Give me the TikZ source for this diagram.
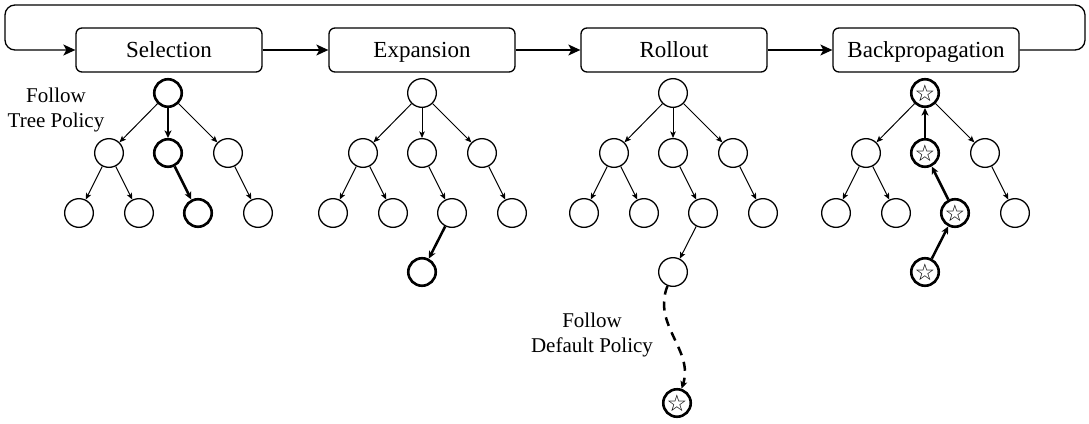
\documentclass[tikz,border=0pt]{standalone}
\usepackage{fontspec}
\setmainfont{Liberation Serif}
\newfontfamily\symfont{DejaVu Sans}
\usetikzlibrary{arrows.meta}
\tikzset{
  stage/.style={draw, rounded corners=6pt, minimum width=186pt, minimum height=44pt, inner sep=0pt, text height=17pt, text depth=3pt, font=\fontsize{23}{26}\selectfont, line width=1.3pt},
  nd/.style={circle, draw, minimum size=28.7pt, inner sep=0pt, line width=1.3pt},
  hn/.style={nd, minimum size=27.5pt, line width=2.6pt},
  sn/.style={hn, label={[font=\symfont\fontsize{23}{23}\selectfont, inner sep=0pt]center:☆}},
  ed/.style={-{Stealth[length=6.5pt,width=5.5pt,inset=1.5pt]}, line width=1pt},
  hed/.style={-{Stealth[length=7.5pt,width=7pt,inset=2pt]}, line width=2.5pt},
  flow/.style={-{Stealth[length=12pt,width=11pt,inset=3pt]}, line width=1.3pt},
  lbl/.style={align=center, font=\fontsize{21}{25}\selectfont},
}
\begin{document}
\begin{tikzpicture}[x=1pt,y=-1pt]
\useasboundingbox (0,0) rectangle (1089,423);
% stage boxes
\node[stage] (sel) at (169,50) {Selection};
\node[stage] (exp) at (422,50) {Expansion};
\node[stage] (rol) at (674,50) {Rollout};
\node[stage] (bp)  at (926,50) {Backpropagation};
\draw[flow] (sel) -- (exp);
\draw[flow] (exp) -- (rol);
\draw[flow] (rol) -- (bp);
\draw[flow, rounded corners=10pt] (bp.east) -| (1085,5) -| (5,50) -- (sel.west);

% Selection tree
\begin{scope}[xshift=168pt]
\node[hn] (a0) at (0,93) {};
\node[nd] (a1) at (-59,153) {};
\node[hn] (a2) at (0,153) {};
\node[nd] (a3) at (60,153) {};
\node[nd] (a4) at (-89,213) {};
\node[nd] (a5) at (-29,213) {};
\node[hn] (a6) at (30,213) {};
\node[nd] (a7) at (90,213) {};
\draw[ed] (a0) -- (a1);
\draw[hed] (a0) -- (a2);
\draw[ed] (a0) -- (a3);
\draw[ed] (a1) -- (a4);
\draw[ed] (a1) -- (a5);
\draw[hed] (a2) -- (a6);
\draw[ed] (a3) -- (a7);
\end{scope}
\node[lbl] (tp) at (56,110) {Follow\\Tree Policy};

% Expansion tree
\begin{scope}[xshift=422pt]
\node[nd] (b0) at (0,93) {};
\node[nd] (b1) at (-59,153) {};
\node[nd] (b2) at (0,153) {};
\node[nd] (b3) at (60,153) {};
\node[nd] (b4) at (-89,213) {};
\node[nd] (b5) at (-29,213) {};
\node[nd] (b6) at (30,213) {};
\node[nd] (b7) at (90,213) {};
\node[hn] (b8) at (0,272) {};
\draw[ed] (b0) -- (b1);
\draw[ed] (b0) -- (b2);
\draw[ed] (b0) -- (b3);
\draw[ed] (b1) -- (b4);
\draw[ed] (b1) -- (b5);
\draw[ed] (b2) -- (b6);
\draw[ed] (b3) -- (b7);
\draw[hed] (b6) -- (b8);
\end{scope}

% Rollout tree
\begin{scope}[xshift=673pt]
\node[nd] (c0) at (0,93) {};
\node[nd] (c1) at (-59,153) {};
\node[nd] (c2) at (0,153) {};
\node[nd] (c3) at (60,153) {};
\node[nd] (c4) at (-89,213) {};
\node[nd] (c5) at (-29,213) {};
\node[nd] (c6) at (30,213) {};
\node[nd] (c7) at (90,213) {};
\node[nd] (c8) at (0,272) {};
\node[sn] (c9) at (4,403) {};
\draw[ed] (c0) -- (c1);
\draw[ed] (c0) -- (c2);
\draw[ed] (c0) -- (c3);
\draw[ed] (c1) -- (c4);
\draw[ed] (c1) -- (c5);
\draw[ed] (c2) -- (c6);
\draw[ed] (c3) -- (c7);
\draw[ed] (c6) -- (c8);
\end{scope}
\draw[hed, dash pattern=on 9pt off 7pt] (c8) .. controls (652,325) and (694,350) .. (c9);
\node[lbl] (dp) at (592,335) {Follow\\Default Policy};

% Backpropagation tree
\begin{scope}[xshift=925pt]
\node[sn] (d0) at (0,93) {};
\node[nd] (d1) at (-59,153) {};
\node[sn] (d2) at (0,153) {};
\node[nd] (d3) at (60,153) {};
\node[nd] (d4) at (-89,213) {};
\node[nd] (d5) at (-29,213) {};
\node[sn] (d6) at (30,213) {};
\node[nd] (d7) at (90,213) {};
\node[sn] (d8) at (0,272) {};
\draw[ed] (d0) -- (d1);
\draw[hed] (d2) -- (d0);
\draw[ed] (d0) -- (d3);
\draw[ed] (d1) -- (d4);
\draw[ed] (d1) -- (d5);
\draw[hed] (d6) -- (d2);
\draw[ed] (d3) -- (d7);
\draw[hed] (d8) -- (d6);
\end{scope}
\end{tikzpicture}
\end{document}
